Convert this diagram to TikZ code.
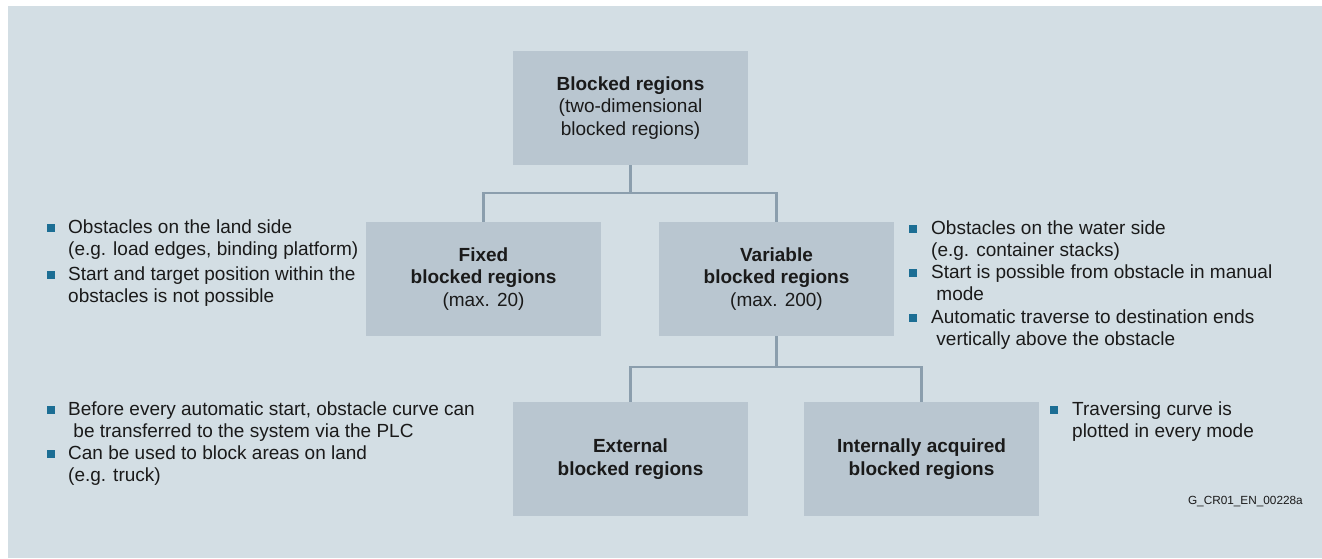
\documentclass[tikz,border=0pt]{standalone}
\usepackage{fontspec}
\setmainfont{Liberation Sans}
\definecolor{bgcol}{RGB}{211,222,228}
\definecolor{boxcol}{RGB}{185,198,208}
\definecolor{linecol}{RGB}{139,158,173}
\definecolor{bulcol}{RGB}{28,110,148}
\definecolor{txtcol}{RGB}{26,26,26}
\begin{document}
\begin{tikzpicture}[x=1pt,y=-1pt,
  region/.style={fill=boxcol, minimum width=235pt, minimum height=114pt, inner sep=0pt,
    align=center, text=txtcol, font=\fontsize{19}{22.7}\selectfont},
  note/.style={anchor=base west, inner sep=0pt, text=txtcol, font=\fontsize{19}{22.4}\selectfont},
  bul/.style={fill=bulcol, minimum size=8pt, inner sep=0pt, anchor=south west},
  conn/.style={draw=linecol, line width=2.6pt, line join=miter}]
\useasboundingbox (0,0) rectangle (1322,558);
\fill[bgcol] (8,6) rectangle (1322,558);

% hierarchy boxes
\node[region] (top)   at (630.5,108) {\textbf{Blocked regions}\\(two-dimensional\\blocked regions)};
\node[region] (fixed) at (483.5,279) {\textbf{Fixed}\\\textbf{blocked regions}\\(max. 20)};
\node[region] (var)   at (776.5,279) {\textbf{Variable}\\\textbf{blocked regions}\\(max. 200)};
\node[region] (ext)   at (630.5,459) {\textbf{External}\\\textbf{blocked regions}};
\node[region] (int)   at (921.5,459) {\textbf{Internally acquired}\\\textbf{blocked regions}};

% tree connectors
\coordinate (j1) at (630.5,193);
\coordinate (j2) at (776.5,367);
\draw[conn] (top.south) -- (j1);
\draw[conn] (fixed.north) |- (j1) -| (var.north);
\draw[conn] (var.south) -- (j2);
\draw[conn] (ext.north) |- (j2) -| (int.north);

% notes for fixed regions
\node[bul] (bl1) at (47,232) {};
\node[note] (tl1) at (68,233) {\begin{tabular}[t]{@{}l@{}}Obstacles on the land side\\(e.g. load edges, binding platform)\end{tabular}};
\node[bul] (bl2) at (47,279) {};
\node[note] (tl2) at (68,280) {\begin{tabular}[t]{@{}l@{}}Start and target position within the\\obstacles is not possible\end{tabular}};

% notes for external regions
\node[bul] (bl3) at (47,414) {};
\node[note] (tl3) at (68,415) {\begin{tabular}[t]{@{}l@{}}Before every automatic start, obstacle curve can\\\ be transferred to the system via the PLC\end{tabular}};
\node[bul] (bl4) at (47,458) {};
\node[note] (tl4) at (68,459) {\begin{tabular}[t]{@{}l@{}}Can be used to block areas on land\\(e.g. truck)\end{tabular}};

% notes for variable regions
\node[bul] (br1) at (909,233) {};
\node[note] (tr1) at (931,234) {\begin{tabular}[t]{@{}l@{}}Obstacles on the water side\\(e.g. container stacks)\end{tabular}};
\node[bul] (br2) at (909,277) {};
\node[note] (tr2) at (931,278) {\begin{tabular}[t]{@{}l@{}}Start is possible from obstacle in manual\\\ mode\end{tabular}};
\node[bul] (br3) at (909,322) {};
\node[note] (tr3) at (931,323) {\begin{tabular}[t]{@{}l@{}}Automatic traverse to destination ends\\\ vertically above the obstacle\end{tabular}};

% note for internally acquired regions
\node[bul] (br4) at (1050,414) {};
\node[note] (tr4) at (1072,415) {\begin{tabular}[t]{@{}l@{}}Traversing curve is\\plotted in every mode\end{tabular}};

% drawing code
\node[anchor=base east, inner sep=0pt, text=txtcol, font=\fontsize{11.8}{14}\selectfont] (code) at (1303,504) {G\_CR01\_EN\_00228a};
\end{tikzpicture}
\end{document}
